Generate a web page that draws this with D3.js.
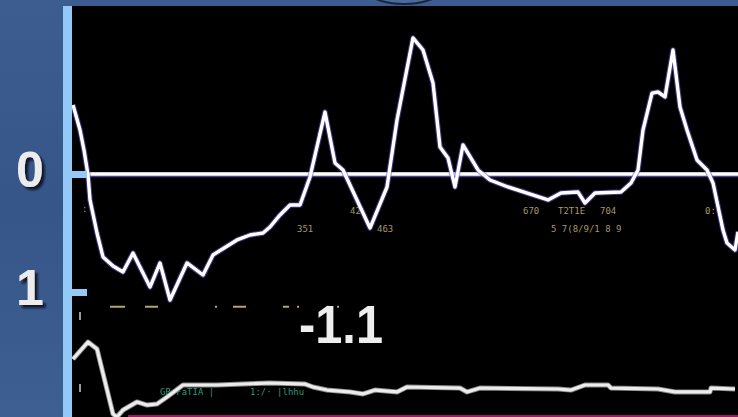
<!DOCTYPE html>
<html><head><meta charset="utf-8">
<script src="https://cdn.jsdelivr.net/npm/d3@7"></script>
<style>html,body{margin:0;padding:0;background:#3a5a8c;overflow:hidden}svg{display:block}</style>
</head><body>
<svg id="c" width="738" height="417"></svg>
<script>
// ---- data ----
const mainT = [0,7,11,15,17,24,30,40,50,60,77,87,97,114,130,140,164,177,190,197,207,217,227,237,252,262,270,297,314,324,340,350,360,367,375,382,390,405,417,435,475,488,505,512,522,548,558,565,570,579,585,592,600,607,614,624,634,640,650,654,662,665];
const mainV = [-0.585,-0.373,-0.203,0.008,0.22,0.50,0.703,0.78,0.83,0.67,0.958,0.754,1.068,0.754,0.856,0.686,0.559,0.517,0.5,0.449,0.347,0.263,0.263,0.025,-0.525,-0.093,-0.034,0.458,0.11,-0.458,-1.153,-1.051,-0.771,-0.229,-0.136,0.11,-0.246,-0.034,0.051,0.11,0.22,0.161,0.153,0.246,0.161,0.153,0.076,-0.034,-0.373,-0.686,-0.695,-0.653,-1.051,-0.568,-0.373,-0.119,-0.034,0.076,0.475,0.585,0.644,0.49];
const lowT = [0,15,24,40,44,50,64,74,84,94,110,144,197,232,240,254,277,290,302,324,334,387,394,407,485,498,512,535,538,585,602,637,638,662];
const lowV = [1.568,1.424,1.483,2.034,2.059,2.0,1.932,1.958,1.949,1.89,1.788,1.788,1.771,1.78,1.805,1.831,1.847,1.864,1.831,1.847,1.805,1.814,1.847,1.814,1.822,1.831,1.788,1.788,1.814,1.822,1.847,1.847,1.814,1.822];
const baseT = [55, 665];
const baseV = [2.05, 2.05];
const yTicks = [0, 1];
const yTickLabels = ["0", "1"];
const valueLabel = "-1.1";
const smallLabels = [
  {t:9, v:0.32, s:":"}, {t:224, v:0.49, s:"351"}, {t:277, v:0.34, s:"42"},
  {t:304, v:0.49, s:"463"}, {t:450, v:0.34, s:"670"}, {t:485, v:0.34, s:"T2T1E"},
  {t:527, v:0.34, s:"704"}, {t:478, v:0.49, s:"5 7(8/9/1 8 9"}, {t:632, v:0.34, s:"0:"}
];
const greenLabels = [{t:87, v:1.87, s:"GR  FaTIA |"}, {t:177, v:1.87, s:"1:/·   |lhhu"}];
// tan marker row (start, length in x units)
const tanMarkT = [37, 72, 142, 160, 210, 224, 254, 264];
const tanMarkLen = [14, 12, 1, 12, 5, 1, 1, 1];
const tanRowV = 1.125;

// ---- layout ----
const W = 738, H = 417;
const svg = d3.select("#c");
const x = d3.scaleLinear().domain([0, 665]).range([73, 738]);
const y = d3.scaleLinear().domain([0, 1]).range([174, 292]);

const defs = svg.append("defs");
const g1 = defs.append("linearGradient").attr("id","bg").attr("x1",0).attr("y1",0).attr("x2",0).attr("y2",1);
g1.append("stop").attr("offset","0%").attr("stop-color","#3d5c8f");
g1.append("stop").attr("offset","50%").attr("stop-color","#36568a");
g1.append("stop").attr("offset","100%").attr("stop-color","#3e5f92");
const sh = defs.append("filter").attr("id","shadow").attr("x","-30%").attr("y","-30%").attr("width","170%").attr("height","170%");
sh.append("feDropShadow").attr("dx",3).attr("dy",3).attr("stdDeviation",0.8).attr("flood-color","#0a0f1a").attr("flood-opacity",0.9);

svg.append("rect").attr("width",W).attr("height",H).attr("fill","url(#bg)");
defs.append("clipPath").attr("id","topclip").append("rect").attr("x",0).attr("y",0).attr("width",W).attr("height",6);
svg.append("ellipse").attr("cx",404).attr("cy",-20).attr("rx",46).attr("ry",24)
  .attr("fill","#4a6a9c").attr("stroke","#1a2438").attr("stroke-width",2).attr("clip-path","url(#topclip)");

// black plot panel
svg.append("rect").attr("x",72).attr("y",6).attr("width",W-72).attr("height",H-6).attr("fill","#000");
// left axis bar
svg.append("rect").attr("x",63).attr("y",6).attr("width",9).attr("height",H-6).attr("fill","#93c9f7");

defs.append("clipPath").attr("id","plot").append("rect").attr("x",72).attr("y",6).attr("width",W-72).attr("height",H-6);
const plot = svg.append("g").attr("clip-path","url(#plot)");

// zero line
plot.append("line").attr("x1",87).attr("x2",W).attr("y1",y(0)+0.8).attr("y2",y(0)+0.8)
  .attr("stroke","#6b5ac8").attr("stroke-width",5).attr("opacity",0.7);
plot.append("line").attr("x1",87).attr("x2",W).attr("y1",y(0)).attr("y2",y(0))
  .attr("stroke","#ffffff").attr("stroke-width",3.5);

// y axis ticks via d3 axis
const axis = d3.axisLeft(y).tickValues(yTicks).tickFormat((d,i)=>yTickLabels[i]).tickSize(0).tickPadding(0);
const ag = svg.append("g").call(axis);
ag.select(".domain").remove();
ag.selectAll(".tick text").remove();
ag.selectAll(".tick").each(function(d,i){
  const t = d3.select(this);
  t.append("rect").attr("x",72).attr("y",-3.5).attr("width",15).attr("height",7).attr("fill","#93c9f7");
  t.append("text").attr("x",30).attr("y",-1).attr("text-anchor","middle").attr("dominant-baseline","middle")
    .attr("font-family","Liberation Sans, Arial, sans-serif").attr("font-weight","bold").attr("font-size",50)
    .attr("fill","#ececec").attr("filter","url(#shadow)").text(yTickLabels[i]);
});

// small tan labels
const monoFont = "DejaVu Sans Mono, monospace";
plot.selectAll("text.tan").data(smallLabels).enter().append("text").attr("class","tan")
  .attr("x",d=>x(d.t)).attr("y",d=>y(d.v)).attr("font-family",monoFont).attr("font-size",9)
  .attr("fill","#a8976a").text(d=>d.s);
plot.selectAll("rect.row").data(d3.zip(tanMarkT, tanMarkLen)).enter().append("rect").attr("class","row")
  .attr("x",d=>x(d[0])).attr("y",y(tanRowV)-1).attr("width",d=>x(d[0]+d[1])-x(d[0])+1).attr("height",2)
  .attr("fill","#b8a270");

// dashed white vertical marker in lower panel
plot.append("line").attr("x1",80).attr("x2",80).attr("y1",312).attr("y2",H)
  .attr("stroke","#cfcfcf").attr("stroke-width",1.5).attr("stroke-dasharray","8,64");

// green labels
plot.selectAll("text.grn").data(greenLabels).enter().append("text").attr("class","grn")
  .attr("x",d=>x(d.t)).attr("y",d=>y(d.v)).attr("font-family",monoFont).attr("font-size",9)
  .attr("fill","#2a9a78").text(d=>d.s);

// pink base line
const line = d3.line().x(d=>x(d[0])).y(d=>y(d[1]));
plot.append("path").datum(d3.zip(baseT, baseV)).attr("d",line).attr("fill","none")
  .attr("stroke","#9a1a6a").attr("stroke-width",2);

// grey lower line
plot.append("path").datum(d3.zip(lowT, lowV)).attr("d",line).attr("fill","none")
  .attr("stroke","#8a8a8a").attr("stroke-width",5).attr("stroke-linejoin","round");
plot.append("path").datum(d3.zip(lowT, lowV)).attr("d",line).attr("fill","none")
  .attr("stroke","#ececec").attr("stroke-width",3.2).attr("stroke-linejoin","round");

// main white trace with purple halo
const mainData = d3.zip(mainT, mainV);
plot.append("path").datum(mainData).attr("d",line).attr("fill","none")
  .attr("stroke","#6a55d0").attr("stroke-width",5.5).attr("stroke-linejoin","round").attr("opacity",0.6);
plot.append("path").datum(mainData).attr("d",line).attr("fill","none")
  .attr("stroke","#ffffff").attr("stroke-width",3.4).attr("stroke-linejoin","round");

// big value label
svg.append("text").attr("x",299).attr("y",343).attr("font-family","Liberation Sans, Arial, sans-serif")
  .attr("font-weight","bold").attr("font-size",54).attr("fill","#eeeeee")
  .attr("textLength",84).attr("lengthAdjust","spacingAndGlyphs").text(valueLabel);
</script>
</body></html>
